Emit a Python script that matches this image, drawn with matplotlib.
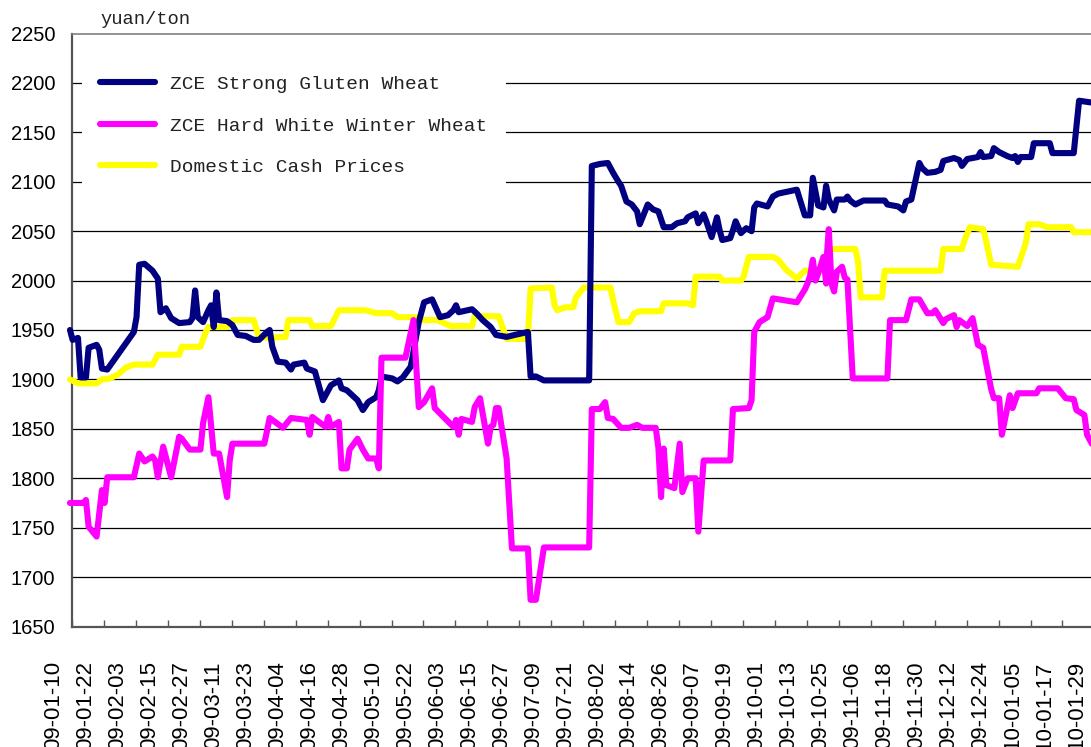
import matplotlib
matplotlib.use("Agg")
import matplotlib.pyplot as plt
import matplotlib.transforms as mtransforms
import numpy as np

# x values: days since 2009-01-10
blue_day = [6, 7, 9, 10, 12, 13, 16, 17, 18, 20, 30, 31, 32, 34, 37, 39, 40, 42, 44, 47, 51, 52, 53, 54, 56, 58, 59, 60, 61, 62,
            65, 67, 69, 72, 75, 77, 80, 81, 82, 84, 87, 89, 90, 94, 95, 98, 101, 104, 107, 108, 110, 112, 114, 116, 118, 121, 122,
            123, 127, 129, 131, 134, 137, 139, 142, 143, 145, 148, 150, 151, 152, 157, 159, 161, 164, 166, 170, 173, 178, 179, 181,
            184, 201, 202, 205, 208, 210, 212, 213, 215, 217, 219, 220, 223, 225, 227, 229, 232, 234, 237, 238, 241, 242, 244, 245,
            247, 249, 250, 251, 254, 255, 256, 258, 260, 262, 263, 264, 268, 270, 272, 279, 282, 284, 285, 287, 289, 290, 291, 293,
            294, 297, 298, 299, 301, 304, 312, 313, 317, 319, 320, 322, 325, 326, 328, 331, 333, 334, 338, 340, 341, 343, 347, 348,
            349, 352, 353, 355, 358, 360, 361, 362, 363, 367, 368, 374, 375, 383, 385, 390]
blue_val = [1950, 1940, 1942, 1902, 1902, 1932, 1935, 1930, 1911, 1910, 1948, 1963, 2016, 2017, 2010, 2002, 1968, 1972, 1962, 1957,
            1958, 1962, 1990, 1963, 1958, 1970, 1975, 1953, 1988, 1960, 1959, 1955, 1945, 1944, 1940, 1940, 1948, 1950, 1933, 1918,
            1917, 1910, 1915, 1917, 1911, 1908, 1879, 1894, 1899, 1891, 1889, 1884, 1879, 1869, 1877, 1882, 1889, 1903, 1901, 1898,
            1902, 1913, 1958, 1978, 1981, 1975, 1963, 1965, 1970, 1975, 1968, 1971, 1966, 1960, 1953, 1945, 1943, 1945, 1948, 1903,
            1903, 1899, 1899, 2116, 2118, 2119, 2109, 2100, 2096, 2080, 2077, 2070, 2057, 2077, 2072, 2070, 2054, 2054, 2058, 2060,
            2064, 2068, 2058, 2067, 2060, 2044, 2064, 2051, 2041, 2043, 2051, 2060, 2048, 2053, 2050, 2074, 2078, 2075, 2085, 2088,
            2092, 2066, 2066, 2104, 2076, 2074, 2096, 2082, 2071, 2082, 2082, 2085, 2081, 2077, 2081, 2081, 2077, 2075, 2071, 2080,
            2082, 2119, 2114, 2109, 2110, 2112, 2121, 2124, 2122, 2116, 2123, 2125, 2130, 2125, 2126, 2134, 2130, 2126, 2124, 2126,
            2120, 2125, 2125, 2139, 2139, 2129, 2129, 2182, 2180]

magenta_day = [6, 11, 12, 13, 16, 18, 19, 20, 30, 32, 34, 37, 38, 39, 41, 44, 47, 48, 51, 55, 56, 58, 60, 62, 65, 66, 67, 79, 81,
               83, 86, 89, 95, 96, 97, 102, 103, 104, 107, 108, 110, 111, 114, 116, 118, 121, 122, 123, 131, 132, 135, 137, 139,
               142, 143, 150, 151, 152, 153, 157, 158, 160, 163, 164, 165, 166, 167, 170, 172, 178, 179, 181, 184, 201, 202, 205,
               207, 208, 210, 213, 216, 219, 221, 226, 227, 228, 229, 230, 233, 235, 236, 238, 241, 242, 244, 254, 255, 261, 262,
               263, 265, 268, 270, 279, 282, 283, 284, 285, 286, 287, 289, 290, 290, 291, 292, 293, 294, 296, 297, 298, 300, 313,
               314, 320, 322, 325, 328, 330, 331, 334, 335, 338, 339, 340, 343, 345, 347, 349, 352, 353, 355, 356, 359, 360, 362,
               369, 370, 377, 380, 383, 384, 387, 388, 390]
magenta_val = [1775, 1775, 1778, 1751, 1741, 1788, 1775, 1801, 1801, 1825, 1817, 1822, 1818, 1801, 1832, 1801, 1842, 1840, 1829,
               1829, 1856, 1882, 1825, 1825, 1781, 1818, 1835, 1835, 1861, 1857, 1851, 1861, 1859, 1844, 1862, 1852, 1862, 1852,
               1857, 1810, 1810, 1829, 1840, 1829, 1820, 1820, 1810, 1922, 1922, 1922, 1960, 1872, 1877, 1891, 1871, 1852, 1859,
               1844, 1860, 1857, 1872, 1881, 1835, 1852, 1854, 1871, 1871, 1820, 1729, 1729, 1677, 1677, 1730, 1730, 1870, 1870,
               1877, 1861, 1860, 1851, 1851, 1854, 1851, 1851, 1831, 1781, 1830, 1793, 1790, 1835, 1786, 1800, 1800, 1746, 1818,
               1818, 1870, 1871, 1879, 1948, 1958, 1963, 1982, 1978, 1991, 1997, 2005, 2021, 2000, 2007, 2024, 1997, 2014, 2052,
               1997, 1989, 2009, 2014, 2003, 2001, 1901, 1901, 1960, 1960, 1981, 1981, 1967, 1967, 1970, 1957, 1961, 1965, 1953,
               1960, 1954, 1962, 1935, 1932, 1890, 1881, 1881, 1844, 1884, 1871, 1886, 1886, 1891, 1891, 1881, 1880, 1869, 1864,
               1844, 1834]

yellow_day = [6, 9, 16, 18, 21, 24, 27, 30, 37, 39, 47, 48, 55, 57, 58, 65, 67, 75, 77, 87, 88, 96, 97, 104, 107, 117, 121, 127,
              129, 136, 137, 144, 149, 157, 158, 167, 170, 178, 179, 187, 188, 189, 192, 195, 196, 199, 209, 210, 212, 216, 218,
              220, 228, 229, 238, 240, 241, 250, 251, 258, 259, 261, 270, 272, 275, 279, 282, 290, 291, 301, 302, 303, 311, 312,
              333, 334, 341, 342, 344, 349, 350, 352, 362, 365, 366, 370, 373, 382, 383, 390]
yellow_val = [1900, 1896, 1896, 1900, 1901, 1905, 1912, 1915, 1915, 1925, 1925, 1933, 1933, 1948, 1953, 1953, 1960, 1960, 1942,
              1943, 1960, 1960, 1954, 1954, 1970, 1970, 1967, 1967, 1963, 1963, 1960, 1960, 1954, 1954, 1964, 1964, 1941, 1941,
              1992, 1993, 1975, 1970, 1973, 1973, 1983, 1993, 1993, 1980, 1958, 1958, 1967, 1969, 1969, 1977, 1977, 1975, 2004,
              2004, 2000, 2000, 2004, 2024, 2024, 2021, 2011, 2002, 2010, 2010, 2032, 2032, 2019, 1983, 1983, 2010, 2010, 2032,
              2032, 2041, 2054, 2052, 2041, 2016, 2014, 2038, 2057, 2057, 2054, 2054, 2049, 2049]

tick_labels = ["09-01-10", "09-01-22", "09-02-03", "09-02-15", "09-02-27", "09-03-11", "09-03-23", "09-04-04", "09-04-16",
               "09-04-28", "09-05-10", "09-05-22", "09-06-03", "09-06-15", "09-06-27", "09-07-09", "09-07-21", "09-08-02",
               "09-08-14", "09-08-26", "09-09-07", "09-09-19", "09-10-01", "09-10-13", "09-10-25", "09-11-06", "09-11-18",
               "09-11-30", "09-12-12", "09-12-24", "10-01-05", "10-01-17", "10-01-29"]
tick_days = [0, 12, 24, 36, 48, 60, 72, 84, 96, 108, 120, 132, 144, 156, 168, 180, 192, 204, 216, 228, 240, 252, 264, 276,
             288, 300, 312, 324, 336, 348, 360, 372, 384]

series_names = ["ZCE Strong Gluten Wheat", "ZCE Hard White Winter Wheat", "Domestic Cash Prices"]

W, H = 1091, 747
fig = plt.figure(figsize=(W / 100, H / 100), dpi=100)
x0 = 6.76
x1 = 400.0
px_per_day = 2.6625
left_px, top_px, bot_px = 72, 33.5, 626.5
ax = fig.add_axes([left_px / W, 1 - bot_px / H, (x1 - x0) * px_per_day / W, (bot_px - top_px) / H])

kw = dict(lw=4.4, solid_joinstyle="round", solid_capstyle="round", clip_on=False)
ax.plot(yellow_day, yellow_val, color="#FFFF00", zorder=3, label=series_names[2], **kw)
ax.plot(blue_day, blue_val, color="#000080", zorder=4, label=series_names[0], **kw)
ax.plot(magenta_day, magenta_val, color="#FF00FF", zorder=5, label=series_names[1], **kw)

ax.set_xlim(x0, x1)
ax.set_ylim(1650, 2250)
ax.set_yticks(np.arange(1650, 2251, 50))
ax.tick_params(axis="y", length=0, pad=12, labelsize=14.5)
for lab in ax.get_yticklabels():
    lab.set_fontfamily("Liberation Sans")

ax.set_xticks([d + x0 for d in tick_days])
ax.set_xticklabels(tick_labels, rotation=90, fontsize=16, fontfamily="Liberation Sans")
ax.tick_params(axis="x", direction="in", length=5, width=1, color="#555555", pad=25)
offset = mtransforms.ScaledTranslation(-18 / 100, 0, fig.dpi_scale_trans)
for lab in ax.get_xticklabels():
    lab.set_transform(lab.get_transform() + offset)

for v in range(1700, 2250, 50):
    ax.axhline(v, color="#000000", lw=0.9, zorder=1)

ax.spines["right"].set_visible(False)
ax.spines["left"].set_color("#555555")
ax.spines["left"].set_linewidth(1.6)
ax.spines["bottom"].set_color("#555555")
ax.spines["bottom"].set_linewidth(1.6)
ax.spines["top"].set_color("#808080")
ax.spines["top"].set_linewidth(1.2)

handles, labels = ax.get_legend_handles_labels()
order = [1, 2, 0]
leg = ax.legend([handles[i] for i in order], [labels[i] for i in order],
                loc="upper left", bbox_to_anchor=(82 / W, 1 - 57 / H), bbox_transform=fig.transFigure,
                frameon=True, facecolor="white", edgecolor="none", framealpha=1, fancybox=False,
                prop={"family": "Liberation Mono", "size": 14}, handlelength=2.8, handletextpad=0.8,
                labelspacing=1.23, borderpad=0.95, borderaxespad=0)
leg.set_zorder(6)
for t in leg.get_texts():
    t.set_color("#222222")
for l in leg.get_lines():
    l.set_linewidth(4.4)

fig.text(100 / W, 1 - 19 / H, "yuan/ton", fontfamily="Liberation Mono", fontsize=13.5, color="#222222",
         ha="left", va="center")

fig.savefig("out.png", dpi=100)
